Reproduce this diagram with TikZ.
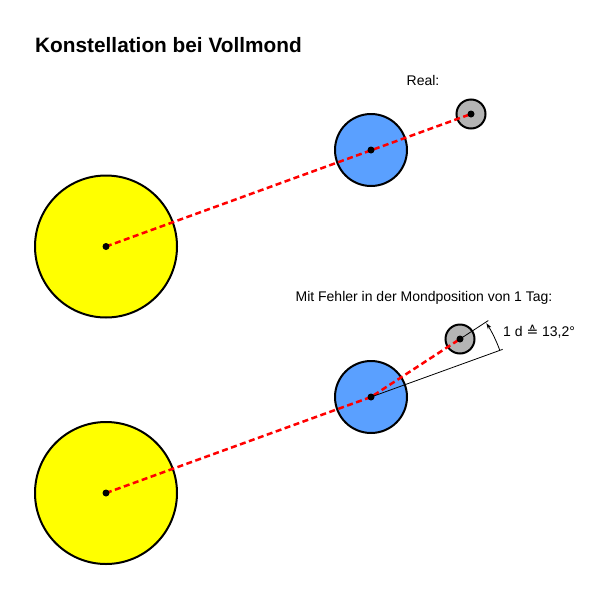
\documentclass[tikz,border=0pt]{standalone}
\usepackage{fontspec}
\setmainfont{Liberation Sans}
\newfontfamily\symfont{DejaVu Sans}
\usetikzlibrary{arrows.meta,calc}
\definecolor{sunyellow}{RGB}{255,255,0}
\definecolor{earthblue}{RGB}{90,160,255}
\definecolor{moongray}{RGB}{180,180,180}
\tikzset{
  body/.style={circle,draw=black,line width=2pt,inner sep=0pt},
  sunbody/.style={body,fill=sunyellow,minimum size=142pt},
  earthbody/.style={body,fill=earthblue,minimum size=72pt},
  moonbody/.style={body,fill=moongray,minimum size=29pt},
  centerdot/.style={circle,fill=black,inner sep=0pt,minimum size=7pt},
  redline/.style={red,line width=2.5pt,dash pattern=on 6pt off 3.5pt},
  thinline/.style={black,line width=0.8pt},
  lbl/.style={font=\fontsize{14pt}{16pt}\selectfont,inner sep=0pt}
}
\begin{document}
\begin{tikzpicture}[x=1pt,y=-1pt]
\useasboundingbox (0,0) rectangle (600,600);
% title
\node[anchor=base west,inner sep=0pt,font=\fontsize{20.8pt}{24pt}\selectfont\bfseries] (title) at (35,52) {Konstellation bei Vollmond};
% top constellation
\node[sunbody] (s1) at (106,246.5) {};
\node[earthbody] (e1) at (371,150) {};
\node[moonbody] (m1) at (471,114) {};
\draw[redline] (s1.center) -- (m1.center);
\node[centerdot] (s1d) at (s1.center) {};
\node[centerdot] (e1d) at (e1.center) {};
\node[centerdot] (m1d) at (m1.center) {};
\node[lbl] (real) at (423,80) {Real:};
% bottom constellation
\node[sunbody] (s2) at (106,493) {};
\node[earthbody] (e2) at (371,397) {};
\node[moonbody] (m2) at (460,339) {};
\coordinate (realdir) at ($(e2.center)+(-19.9:140)$);
\coordinate (moondir) at ($(e2.center)+(-33.1:140)$);
\coordinate (arcstart) at ($(e2.center)+(-19.9:137)$);
\draw[redline] (s2.center) -- (e2.center) -- (m2.center);
\draw[thinline] (e2.center) -- (realdir);
\draw[thinline] (m2.center) -- (moondir);
\draw[thinline,-{Stealth[length=6pt,width=4pt]}] (arcstart) arc[start angle=-19.9,end angle=-32.6,radius=137];
\node[centerdot] (s2d) at (s2.center) {};
\node[centerdot] (e2d) at (e2.center) {};
\node[centerdot] (m2d) at (m2.center) {};
\node[lbl] (fehler) at (424,298) {Mit Fehler in der Mondposition von 1 Tag:};
\node[lbl,anchor=west] (angle) at (503,332) {1 d {\symfont ≙} 13,2°};
\end{tikzpicture}
\end{document}
